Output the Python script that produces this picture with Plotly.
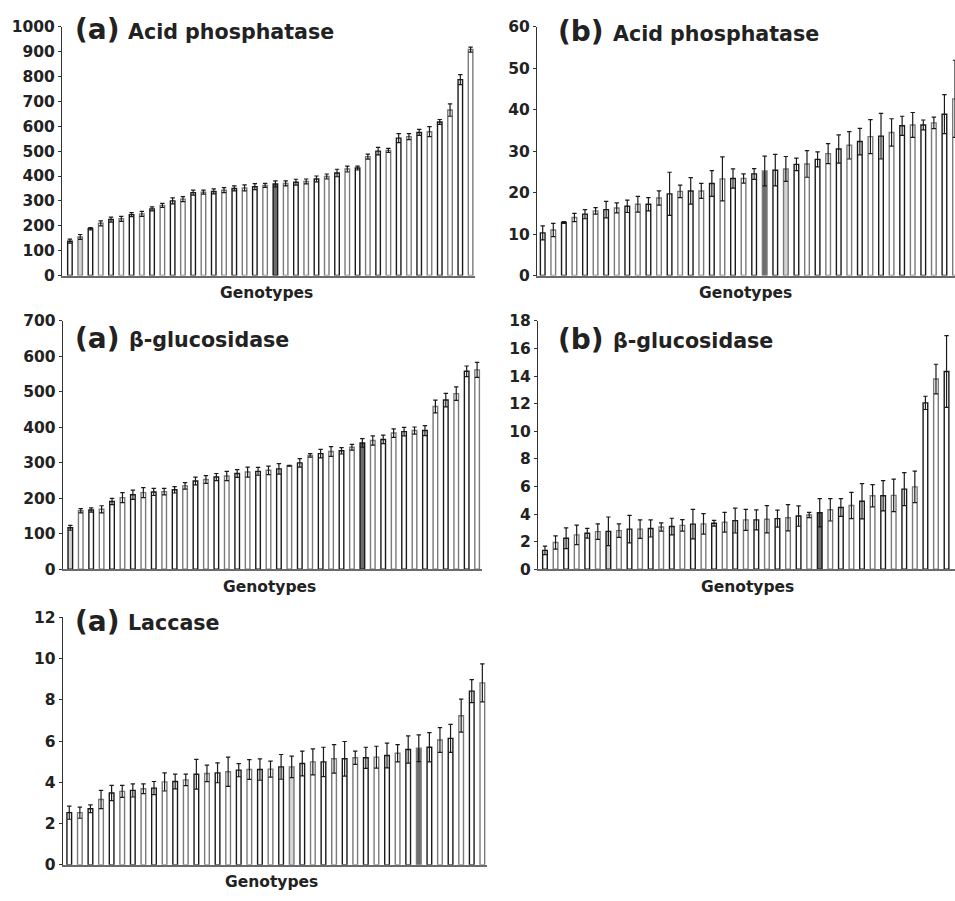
import plotly.graph_objects as go

W, H = 955, 901

# ---------------- data ----------------
acid_a_vals = [138, 155, 188, 210, 225, 228, 245, 248, 268, 282, 300, 307, 333, 335, 338, 343, 350, 352, 357, 362,
               368, 370, 375, 378, 388, 398, 412, 428, 432, 478, 500, 503, 552, 558, 575, 578, 617, 665, 787, 908]
acid_a_err = [8, 10, 5, 10, 10, 10, 8, 10, 8, 8, 12, 10, 10, 8, 10, 10, 10, 12, 12, 8,
              12, 10, 12, 10, 12, 10, 15, 12, 8, 10, 15, 8, 18, 12, 12, 20, 10, 25, 20, 10]

acid_b_vals = [10.3, 11.0, 12.8, 14.0, 14.8, 15.6, 15.9, 16.3, 16.7, 17.2, 17.2, 18.7, 19.7, 20.3, 20.4, 20.4,
               22.2, 23.3, 23.4, 23.4, 24.5, 25.2, 25.4, 25.7, 26.8, 26.9, 28.0, 29.4, 30.5, 31.4, 32.3, 33.5,
               33.6, 34.5, 36.1, 36.3, 36.3, 36.8, 38.9, 42.6]
acid_b_err = [1.7, 1.6, 0.2, 1.0, 1.1, 0.8, 2.0, 1.2, 1.5, 1.9, 1.6, 1.7, 5.2, 1.5, 3.2, 1.8,
              3.1, 5.3, 2.3, 1.1, 1.3, 3.6, 3.8, 3.0, 1.5, 3.2, 1.8, 2.4, 3.4, 3.3, 3.2, 4.1,
              5.5, 3.3, 2.3, 3.0, 1.2, 1.4, 4.7, 9.3]

gluc_a_vals = [117, 165, 167, 169, 191, 202, 210, 216, 218, 219, 224, 235, 249, 253, 260, 263, 270, 274, 276, 279,
               283, 292, 300, 321, 326, 332, 334, 344, 356, 363, 366, 384, 388, 391, 391, 459, 477, 495, 558, 562]
gluc_a_err = [7, 6, 6, 10, 9, 14, 13, 14, 10, 9, 9, 9, 11, 11, 10, 13, 11, 14, 11, 12,
              15, 1, 12, 5, 12, 14, 9, 8, 12, 13, 12, 12, 12, 10, 14, 18, 19, 19, 15, 21]

gluc_b_vals = [1.37, 1.94, 2.25, 2.49, 2.61, 2.73, 2.75, 2.80, 2.91, 2.91, 2.96, 3.06, 3.10, 3.18, 3.27, 3.29,
               3.34, 3.41, 3.53, 3.58, 3.58, 3.63, 3.67, 3.74, 3.86, 3.93, 4.10, 4.31, 4.48, 4.62, 4.93, 5.33,
               5.33, 5.36, 5.81, 5.97, 12.06, 13.79, 14.34]
gluc_b_err = [0.31, 0.48, 0.75, 0.71, 0.35, 0.56, 1.04, 0.49, 1.00, 0.67, 0.62, 0.30, 0.60, 0.42, 1.07, 0.74,
              0.21, 0.71, 0.90, 0.76, 0.73, 0.99, 0.62, 0.95, 0.74, 0.19, 1.02, 0.81, 0.64, 0.95, 1.28, 0.81,
              1.09, 1.18, 1.20, 1.14, 0.48, 1.07, 2.60]

lacc_vals = [2.53, 2.53, 2.72, 3.17, 3.48, 3.56, 3.61, 3.69, 3.72, 4.02, 4.04, 4.12, 4.39, 4.43, 4.46, 4.51,
             4.59, 4.62, 4.62, 4.64, 4.75, 4.75, 4.91, 4.99, 4.99, 5.14, 5.14, 5.19, 5.19, 5.22, 5.30, 5.41,
             5.59, 5.65, 5.70, 6.05, 6.13, 7.23, 8.42, 8.82]
lacc_err = [0.32, 0.27, 0.19, 0.44, 0.37, 0.29, 0.32, 0.24, 0.32, 0.44, 0.36, 0.28, 0.72, 0.40, 0.48, 0.71,
            0.32, 0.48, 0.52, 0.39, 0.60, 0.52, 0.60, 0.63, 0.71, 0.69, 0.84, 0.32, 0.51, 0.53, 0.60, 0.42,
            0.66, 0.65, 0.71, 0.60, 0.68, 0.80, 0.56, 0.92]

# highlighted genotypes (light-grey and dark-grey bars)
acid_a_light, acid_a_dark = [1], [20]
acid_b_light, acid_b_dark = [23], [21]
gluc_a_light, gluc_a_dark = [0], [28]
gluc_b_light, gluc_b_dark = [6], [26]
lacc_light, lacc_dark = [21], [33]

panel_tags = ["(a)", "(b)", "(a)", "(b)", "(a)"]
panel_names = ["Acid phosphatase", "Acid phosphatase", "β-glucosidase", "β-glucosidase", "Laccase"]
y_max = [1000, 60, 700, 18, 12]
y_step = [100, 10, 100, 2, 2]
x_label = "Genotypes"

# ---------------- layout helpers (pixels) ----------------
def px_x(v):
    return v / W

def px_y(v):
    return 1 - v / H

# (x0, x1, ytop, ybottom, xrange)
panels = [
    (62.0, 475.0, 18.0, 272.0, [-0.77, 39.43]),
    (537.0, 955.0, 18.0, 272.0, [-0.54, 39.0]),
    (62.7, 482.0, 318.3, 571.7, [-0.73, 39.47]),
    (538.0, 955.0, 318.3, 571.7, [-0.66, 38.8]),
    (62.7, 487.0, 620.7, 873.3, [-0.62, 39.44]),
]
tag_pos = [(73, 21), (556, 23), (73, 336), (556, 337), (73, 625)]
name_pos = [(126, 23), (611, 25), (127, 338), (611, 339), (126, 627)]
lab_pos = [(266, 290), (745, 290), (269, 590), (747, 590), (271, 891)]

data = [
    (acid_a_vals, acid_a_err, acid_a_light, acid_a_dark),
    (acid_b_vals, acid_b_err, acid_b_light, acid_b_dark),
    (gluc_a_vals, gluc_a_err, gluc_a_light, gluc_a_dark),
    (gluc_b_vals, gluc_b_err, gluc_b_light, gluc_b_dark),
    (lacc_vals, lacc_err, lacc_light, lacc_dark),
]

FONT = "DejaVu Sans"
fig = go.Figure()
annotations = []
layout = {}

for i, ((vals, errs, light, dark), (x0, x1, yt, yb, xr)) in enumerate(zip(data, panels)):
    n = len(vals)
    fills = []
    lines = []
    for k in range(n):
        if k in dark:
            fills.append("#6e6e6e")
        elif k in light:
            fills.append("#d4d4d4")
        else:
            fills.append("white")
        lines.append("#1a1a1a" if k % 2 == 0 else "#7a7a7a")
    sfx = "" if i == 0 else str(i + 1)
    fig.add_trace(go.Bar(
        x=list(range(n)), y=vals,
        error_y=dict(type="data", array=errs, symmetric=True, color="#1a1a1a", thickness=1.2, width=2.2),
        marker=dict(color=fills, line=dict(color=lines, width=1.4)),
        width=0.44,
        xaxis="x" + sfx, yaxis="y" + sfx,
        showlegend=False,
    ))
    layout["xaxis" + sfx] = dict(
        domain=[px_x(x0), px_x(x1)], range=xr, anchor="y" + sfx,
        showticklabels=False, ticks="", showgrid=False, zeroline=False,
        showline=True, linecolor="#6a6a6a", linewidth=1.6,
    )
    layout["yaxis" + sfx] = dict(
        domain=[px_y(yb), px_y(yt)], range=[0, y_max[i]], anchor="x" + sfx,
        dtick=y_step[i], tick0=0, showgrid=False, zeroline=False,
        showline=True, linecolor="#333333", linewidth=1.2,
        ticks="outside", ticklen=3, tickcolor="#333333", tickwidth=1,
        tickfont=dict(family=FONT, size=15.5, color="#222222", weight="bold"),
    )
    tx, ty = tag_pos[i]
    annotations.append(dict(
        text=panel_tags[i], x=px_x(tx), y=px_y(ty), xref="paper", yref="paper",
        xanchor="left", yanchor="middle", showarrow=False,
        font=dict(family=FONT, size=28, color="#222222", weight="bold"),
    ))
    nx, ny = name_pos[i]
    annotations.append(dict(
        text=panel_names[i], x=px_x(nx), y=px_y(ny), xref="paper", yref="paper",
        xanchor="left", yanchor="middle", showarrow=False,
        font=dict(family=FONT, size=20.6, color="#222222", weight="bold"),
    ))
    lx, ly = lab_pos[i]
    annotations.append(dict(
        text=x_label, x=px_x(lx), y=px_y(ly), xref="paper", yref="paper",
        xanchor="center", yanchor="middle", showarrow=False,
        font=dict(family=FONT, size=15.5, color="#222222", weight="bold"),
    ))

fig.update_layout(
    width=W, height=H,
    margin=dict(l=0, r=0, t=0, b=0),
    paper_bgcolor="white", plot_bgcolor="white",
    bargap=0.5,
    annotations=annotations,
    **layout,
)

fig.write_html("out.html")
